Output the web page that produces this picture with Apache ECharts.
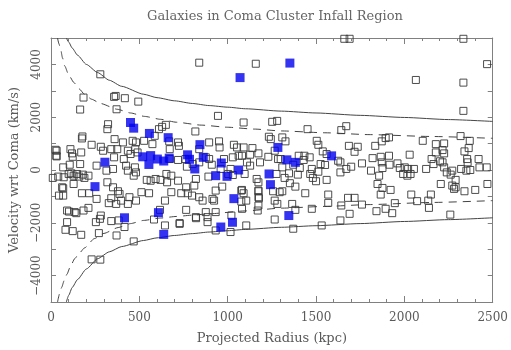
<!DOCTYPE html>
<html><head><meta charset="utf-8">
<script src="https://cdn.jsdelivr.net/npm/echarts@6/dist/echarts.min.js"></script>
<style>html,body{margin:0;padding:0;background:#fff}#c{width:511px;height:350px}</style>
</head><body><div id="c"></div>
<script>
const titleText = "Galaxies in Coma Cluster Infall Region";
const xName = "Projected Radius (kpc)";
const yName = "Velocity wrt Coma (km/s)";

const openGalaxies = [
[839,4065],[1159,4025],[279,3625],[184,2745],[357,2770],[366,2805],[418,2720],[494,2590],[165,2290],[371,2300],[945,2050],[1090,1800],[1252,1825],[1280,1860],
[1660,4970],[1690,4970],[2334,4970],[2468,4010],[2065,3410],[2334,3310],[2334,2240],
[323,1735],[319,1547],[178,1270],[175,1195],[360,1170],[407,1045],[462,1105],[481,1045],[611,1547],[629,1635],[587,1295],[527,1105],[574,980],[26,765],[30,540],[110,790],[119,630],[123,500],[171,665],[230,955],[282,880],[295,730],[341,790],[375,790],[435,730],[477,790],[490,665],[450,605],[357,480],[412,415],[165,225],[258,165],[314,-25],[351,40],[425,165],[435,-25],[475,100],[468,-215],[481,-90],[10,-300],[41,-250],[72,-275],[100,-150],[115,-125],[128,-215],[147,-150],[160,-250],[180,-175],[189,-300],[212,-215],[63,-655],[128,-530],[175,-880],[216,-880],[258,-1095],[319,-465],[351,-655],[379,-805],[388,-905],[327,-1255],[341,-1070],[397,-1160],[435,-1285],[369,-1285],[444,-1030],[481,-1160],[555,-880],[512,-840],[564,-405],[542,-375],[592,-340],[620,-375],[45,-970],[91,-1535],[134,-1595],[184,-1535],[212,-1435],[277,-1850],[282,-1725],[341,-1935],[383,-1910],[416,-2160],[91,-1975],[82,-2265],[123,-2315],[271,-2390],[583,-1875],[617,-1510],
[230,-3385],[279,-3395],[468,-2705],[371,-2480],[171,-2455],[254,-1975],[645,-2100],[728,-2010],[821,-1825],[886,-1785],[886,-1975],[932,-1595],[932,-2290],[1016,-2350],[1021,-1725],[1105,-2100],[1105,-1160],[1081,-1470],[1077,-780],[1174,-780],[1174,-1030],[1170,-1535],[1266,-1160],[1266,-1875],[1294,-840],[932,-780],[923,-1160],
[32,730],[32,515],[69,100],[69,-690],[69,-970],[102,-1575],[143,-1635],[106,200],
[650,1710],[817,1460],[669,1085],[672,790],[724,915],[719,1045],[839,790],[895,1045],[951,1085],[954,855],[1035,955],[1053,855],[1090,855],[1140,830],[1127,580],[1081,540],[1062,540],[1029,480],[1174,630],[1230,500],[1244,1170],[1233,1260],[1266,730],[1285,415],[1183,290],[1127,165],[1109,290],[979,415],[895,415],[910,200],[1016,40],[1003,-150],[1029,-190],[1096,-150],[960,40],[891,-250],[672,415],[761,415],[719,380],[769,125],[802,225],[839,290],[876,480],[653,-150],[681,-215],[719,-405],[657,-465],[820,-340],[811,-590],[765,-655],[681,-840],[737,-880],[774,-880],[798,-970],[839,-1030],[858,-1160],[914,-1095],[969,-630],[1081,-755],[1090,-880],[1174,-805],[1177,-1070],[1257,-805],[1174,-465],[1164,-340],[1276,-150],[645,-1160],[765,-1510],[876,-1595],[1077,-1195],[1174,-1345],[820,-1785],[728,-2040],
[1452,1547],[1643,1510],[1671,1660],[1309,1235],[1327,1085],[1504,1105],[1513,955],[1686,915],[1736,880],[1718,690],[1538,705],[1560,605],[1835,915],[1872,1085],[1894,1210],[1913,1235],[1402,540],[1434,540],[1464,480],[1430,380],[1300,415],[1309,100],[1371,200],[1408,75],[1476,40],[1526,225],[1551,190],[1625,350],[1638,290],[1671,40],[1699,125],[1760,250],[1811,-25],[1820,450],[1866,500],[1913,540],[1872,290],[1876,75],[1916,200],[1467,-150],[1513,-65],[1397,-175],[1347,-125],[1322,-300],[1352,-500],[1383,-630],[1482,-300],[1500,-425],[1560,-375],[1638,-90],[1857,-215],[1848,-530],[1876,-680],[1922,-755],[1309,-805],[1439,-880],[1569,-930],[1866,-930],[1681,-1055],[1718,-1055],[1569,-1245],[1643,-1345],[1760,-1310],[1365,-1285],[1383,-1510],[1476,-1470],[1690,-1660],[1842,-1560],[1894,-1470],[1931,-1635],[1638,-1910],[1371,-2225],[1532,-2100],[1281,-1285],
[2260,-1690],[2139,-1435],
[2104,1105],[2178,980],[2225,1005],[2318,1285],[2370,1105],[2216,755],[2225,630],[2178,665],[2340,705],[2364,830],[2030,580],[1961,250],[1974,75],[2002,100],[2021,40],[2054,40],[1993,-150],[2017,-215],[2035,-150],[2123,40],[2154,415],[2165,225],[2202,330],[2216,290],[2225,100],[2240,-90],[2262,-175],[2271,-25],[2290,-375],[2321,40],[2351,-25],[2373,0],[2355,415],[2358,290],[2420,415],[2425,100],[2466,100],[2470,-530],[2206,-530],[2271,-590],[2281,-715],[2290,-655],[2340,-805],[2401,-755],[2039,-930],[2072,-1180],[2135,-1160],[2150,-930],[1946,-1255]
];

const blueGalaxies = [
[1352,4050],[1070,3500],[450,1800],[468,1585],[557,1385],[663,1225],[843,960],[1284,855],
[305,295],[519,500],[564,545],[602,415],[638,340],[554,210],[669,450],[773,575],[784,405],[862,480],
[814,40],[964,265],[932,-215],[996,-240],[1062,0],[1234,-150],[1242,-555],[1035,-1085],
[1027,-1980],[961,-2160],[638,-2440],[608,-1615],[416,-1810],[249,-630],
[1335,385],[1383,290],[1588,535],[1346,-1725]
];

const upperSolid = [[87,5000],[100,4850],[120,4620],[150,4350],[200,4000],[264,3690],[330,3400],[400,3170],[524,2870],[600,2740],[700,2620],[800,2520],[895,2440],[1000,2380],[1100,2320],[1304,2230],[1500,2160],[1750,2070],[2000,1990],[2250,1910],[2500,1840]];
const lowerSolid = [[87,-5000],[100,-4750],[120,-4450],[150,-4150],[200,-3750],[264,-3360],[330,-3100],[400,-2900],[524,-2670],[600,-2570],[700,-2480],[800,-2410],[895,-2350],[1000,-2300],[1100,-2250],[1304,-2170],[1500,-2110],[1750,-2030],[2000,-1950],[2250,-1880],[2500,-1810]];
const upperDashed = [[37,5000],[45,4780],[55,4560],[65,4250],[78,3940],[100,3600],[130,3310],[160,3070],[189,2870],[230,2680],[280,2520],[375,2300],[450,2160],[530,2030],[620,1920],[709,1810],[850,1700],[1000,1620],[1150,1550],[1304,1480],[1550,1410],[1800,1340],[2150,1270],[2500,1200]];
const lowerDashed = [[37,-5000],[48,-4700],[60,-4450],[75,-4180],[90,-3950],[110,-3650],[134,-3360],[160,-3150],[190,-2950],[245,-2600],[300,-2400],[380,-2180],[450,-2030],[524,-1910],[620,-1820],[709,-1760],[800,-1710],[895,-1660],[1100,-1550],[1304,-1445],[1550,-1380],[1800,-1310],[2150,-1230],[2500,-1160]];

const xMin = 0, xMax = 2500, xStep = 500;
const yMin = -5000, yMax = 5000, yStep = 1000;

const font = "DejaVu Serif";
const txt = "#5a5a5a";
const axc = "#808080";

function xAx(pos, labels) {
  return {
    type: 'value', position: pos, min: xMin, max: xMax, interval: xStep,
    name: labels ? xName : '', nameLocation: 'middle', nameGap: 30,
    nameTextStyle: {fontFamily: font, fontSize: 13, color: txt},
    axisLine: {show: true, onZero: false, lineStyle: {color: axc, width: 1}},
    axisTick: {show: true, inside: true, length: 6, lineStyle: {color: axc}},
    minorTick: {show: true, splitNumber: 5, length: 3, lineStyle: {color: axc}},
    axisLabel: {show: labels, margin: 10, fontFamily: font, fontSize: 12, color: txt,
      formatter: v => String(v)},
    splitLine: {show: false}
  };
}
function yAx(pos, labels) {
  return {
    type: 'value', position: pos, min: yMin, max: yMax, interval: yStep,
    name: labels ? yName : '', nameLocation: 'middle', nameGap: 30,
    nameTextStyle: {fontFamily: font, fontSize: 13, color: txt},
    axisLine: {show: true, onZero: false, lineStyle: {color: axc, width: 1}},
    axisTick: {show: true, inside: true, length: 5, lineStyle: {color: axc}},
    axisLabel: {show: labels, rotate: 90, margin: 8, fontFamily: font, fontSize: 12, color: txt,
      formatter: v => (v % 2000 === 0 ? String(v).replace('-', '\u2212') : '')},
    splitLine: {show: false}
  };
}

const lineSeries = (data, dashed) => ({
  type: 'line', data: data, smooth: 0.2, smoothMonotone: 'x', symbol: 'none', silent: true,
  lineStyle: {color: '#444', width: 1, type: dashed ? [8, 6] : 'solid'}, z: 1
});

const chart = echarts.init(document.getElementById('c'), null, {renderer: 'canvas'});
chart.setOption({
  animation: false,
  backgroundColor: '#fff',
  title: {text: titleText, left: 270, top: 5, textAlign: 'center',
    textStyle: {fontFamily: font, fontSize: 13, fontWeight: 'normal', color: '#666'}},
  grid: {left: 45, right: 17, top: 38, bottom: 47},
  xAxis: [xAx('bottom', true), xAx('top', false)],
  yAxis: [yAx('left', true), yAx('right', false)],
  series: [
    lineSeries(upperSolid, false), lineSeries(lowerSolid, false),
    lineSeries(upperDashed, true), lineSeries(lowerDashed, true),
    {type: 'scatter', data: openGalaxies, symbol: 'rect', symbolSize: 7, z: 2,
      itemStyle: {color: 'rgba(0,0,0,0)', borderColor: '#3a3a3a', borderWidth: 1, opacity: 0.9}},
    {type: 'scatter', data: blueGalaxies, symbol: 'rect', symbolSize: 9, z: 3,
      itemStyle: {color: '#0000ee', borderWidth: 0}}
  ]
});
</script></body></html>
